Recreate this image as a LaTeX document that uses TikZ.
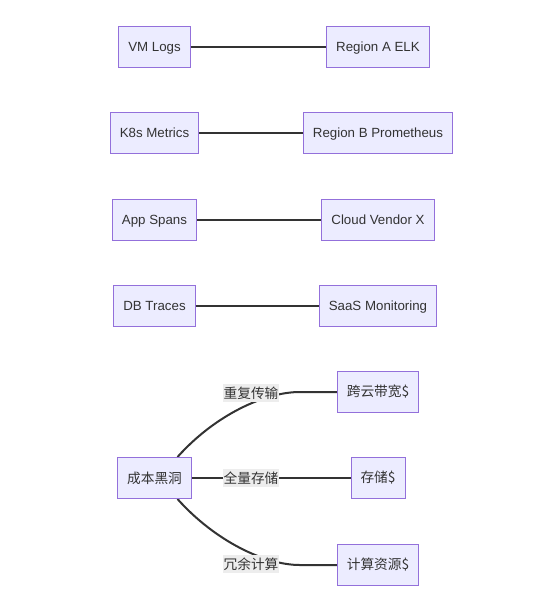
\documentclass[tikz,border=0pt]{standalone}
\usepackage{fontspec}
\setmainfont{Liberation Sans}
\newfontfamily\cjk{Noto Sans CJK SC}
\usetikzlibrary{backgrounds}
\definecolor{nodefill}{HTML}{ECECFF}
\definecolor{nodeline}{HTML}{9370DB}
\definecolor{edgeline}{HTML}{333333}
\definecolor{labelfill}{HTML}{EDEDED}

\begin{document}
\begin{tikzpicture}[x=1pt,y=-1pt]

\pgfdeclarelayer{background}
\pgfsetlayers{background,main}

\tikzstyle{block} = [draw=nodeline, fill=nodefill, text=edgeline, line width=1pt, text centered, minimum height=41pt, inner xsep=9.5pt, text height=9.5pt, text depth=0pt, font=\fontsize{13.3}{15}\selectfont]
\tikzstyle{cjkblock} = [draw=nodeline, fill=nodefill, text=edgeline, line width=1pt, text centered, minimum height=41pt, inner xsep=9.5pt, font=\cjk\fontsize{13.7}{16}\selectfont]
\tikzstyle{textblock} = [fill=labelfill, text=edgeline, inner xsep=1pt, inner ysep=3pt, font=\cjk\fontsize{13.7}{16}\selectfont]
\tikzstyle{link} = [draw=edgeline, line width=2pt]

\useasboundingbox (0,0) rectangle (537,595);

\path (154.5,47) coordinate (anchor);

%Sources: left column

\path (anchor)+(0,0) node (vm_logs) [block] {VM Logs};
\path (vm_logs)+(0,86) node (k8s_metrics) [block] {K8s Metrics};
\path (k8s_metrics)+(0,87) node (app_spans) [block] {App Spans};
\path (app_spans)+(0,86) node (db_traces) [block] {DB Traces};

%Backends: right column

\path (vm_logs)+(223.5,0) node (region_a) [block] {Region A ELK};
\path (k8s_metrics)+(223.5,0) node (region_b) [block] {Region B Prometheus};
\path (app_spans)+(223.5,0) node (vendor_x) [block] {Cloud Vendor X};
\path (db_traces)+(223.5,0) node (saas_mon) [block] {SaaS Monitoring};

%Cost black hole: bottom

\path (db_traces)+(0,172) node (cost_hole) [cjkblock] {成本黑洞};

\path (cost_hole)+(223.5,-86) node (cross_bw) [cjkblock] {跨云带宽\$};
\path (cost_hole)+(223.5,0) node (store) [cjkblock] {存储\$};
\path (cost_hole)+(223.5,87) node (compute) [cjkblock] {计算资源\$};

\path (cost_hole)+(96.5,-85) node (dup_text) [textblock] {重复传输};
\path (cost_hole)+(96.5,0) node (full_text) [textblock] {全量存储};
\path (cost_hole)+(96.5,86) node (redund_text) [textblock] {冗余计算};

%Arrows

\draw [link] (vm_logs) -- (region_a);
\draw [link] (k8s_metrics) -- (region_b);
\draw [link] (app_spans) -- (vendor_x);
\draw [link] (db_traces) -- (saas_mon);

\begin{pgfonlayer}{background}

\path (cost_hole.north)+(23,0) coordinate (arrow_1l);
\path (cross_bw.west)+(-37,0) coordinate (arrow_1r);
\draw [link] (arrow_1l) .. controls (215,415) and (265,392) .. (arrow_1r) -- (cross_bw);

\draw [link] (cost_hole) -- (store);

\path (cost_hole.south)+(23,0) coordinate (arrow_3l);
\path (compute.west)+(-37,0) coordinate (arrow_3r);
\draw [link] (arrow_3l) .. controls (215,541) and (265,565) .. (arrow_3r) -- (compute);

\end{pgfonlayer}

\end{tikzpicture}
\end{document}
